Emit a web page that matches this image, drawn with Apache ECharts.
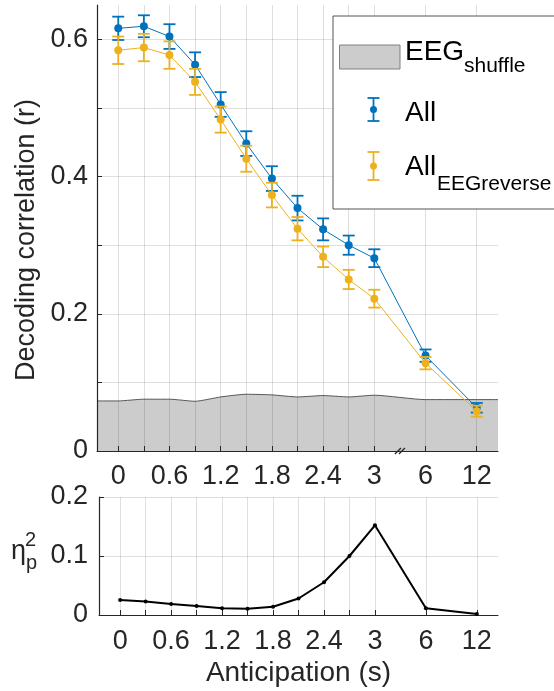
<!DOCTYPE html>
<html lang="en">
<head>
    <meta charset="UTF-8">
    <title>Decoding correlation vs anticipation</title>
    <script src="https://cdn.jsdelivr.net/npm/echarts@6/dist/echarts.min.js"></script>
    <style>
        html, body { margin: 0; padding: 0; background: #fff; }
        #chart { width: 554px; height: 691px; }
    </style>
</head>
<body>
<div id="chart"></div>
<script>
    // anticipation lags (s); the axis is broken after 3 s
    var anticipation = ['0', '0.3', '0.6', '0.9', '1.2', '1.5', '1.8', '2.1', '2.4', '2.7', '3', '6', '12'];
    var tickLabels = ['0', '0.6', '1.2', '1.8', '2.4', '3', '6', '12'];

    var allMean = [0.616, 0.619, 0.604, 0.563, 0.505, 0.448, 0.397, 0.354, 0.323, 0.300, 0.281, 0.139, 0.063];
    var allErr = [0.017, 0.016, 0.018, 0.018, 0.018, 0.018, 0.018, 0.018, 0.016, 0.014, 0.013, 0.009, 0.007];
    var revMean = [0.584, 0.588, 0.577, 0.538, 0.483, 0.426, 0.373, 0.324, 0.283, 0.250, 0.222, 0.128, 0.058];
    var revErr = [0.020, 0.020, 0.020, 0.019, 0.019, 0.019, 0.018, 0.017, 0.015, 0.014, 0.013, 0.009, 0.008];
    var shuffle = [0.073, 0.0755, 0.0755, 0.0725, 0.0788, 0.0827, 0.0818, 0.0788, 0.0808, 0.0788, 0.0813, 0.0749, 0.0749];
    var etaSq = [0.0255, 0.0227, 0.0187, 0.0153, 0.0113, 0.0107, 0.014, 0.028, 0.0555, 0.100, 0.152, 0.0113, 0.0017];

    var yTicksTop = [0, 0.1, 0.2, 0.3, 0.4, 0.5, 0.6];
    var yLabelsTop = [0, 0.2, 0.4, 0.6];
    var yTicksBottom = [0, 0.1, 0.2];

    var BLUE = '#0072BD', ORANGE = '#EDB120', INK = '#262626';
    var FONT = '"Liberation Sans", Arial, Helvetica, sans-serif';

    // slot on the x axis: 0.3 s steps up to 3 s, then two slots per break step
    function slot(i) { return i <= 10 ? i : 10 + 2 * (i - 10); }
    var xMin = -0.83, xMax = 14.83;
    var slots = anticipation.map(function (a, i) { return slot(i); });
    var labelSlots = tickLabels.map(function (t) { return slot(anticipation.indexOf(t)); });
    function slotLabel(v) {
        var i = slots.indexOf(Math.round(v));
        return i < 0 ? '' : anticipation[i];
    }

    function pairs(vals) { return vals.map(function (v, i) { return [slots[i], v]; }); }
    function bars(mean, err) { return mean.map(function (m, i) { return [slots[i], m - err[i], m + err[i]]; }); }

    var shuffleData = [[xMin, shuffle[0]]].concat(pairs(shuffle), [[xMax, shuffle[shuffle.length - 1]]]);

    function errorBar(color) {
        return function (params, api) {
            var lo = api.coord([api.value(0), api.value(1)]);
            var hi = api.coord([api.value(0), api.value(2)]);
            var w = 6, st = { stroke: color, lineWidth: 1.8, fill: null };
            return {
                type: 'group',
                children: [
                    { type: 'line', shape: { x1: hi[0], y1: hi[1], x2: lo[0], y2: lo[1] }, style: st },
                    { type: 'line', shape: { x1: hi[0] - w, y1: hi[1], x2: hi[0] + w, y2: hi[1] }, style: st },
                    { type: 'line', shape: { x1: lo[0] - w, y1: lo[1], x2: lo[0] + w, y2: lo[1] }, style: st }
                ]
            };
        };
    }

    function xAxisCfg(grid, margin, name) {
        return {
            type: 'value', gridIndex: grid, min: xMin, max: xMax,
            name: name || '', nameLocation: 'middle', nameGap: 44,
            nameTextStyle: { fontSize: 28, color: INK, fontFamily: FONT },
            axisLine: { show: true, onZero: false, lineStyle: { color: INK, width: 1 } },
            axisTick: { show: true, inside: true, length: 5, customValues: slots, lineStyle: { color: INK } },
            axisLabel: {
                customValues: labelSlots, margin: margin, fontSize: 27, color: INK, fontFamily: FONT,
                formatter: slotLabel
            },
            splitLine: { show: true, lineStyle: { color: 'rgba(38,38,38,0.15)', width: 1 } }
        };
    }

    function yAxisCfg(grid, max, ticks, labels, margin) {
        return {
            type: 'value', gridIndex: grid, min: 0, max: max,
            axisLine: { show: true, onZero: false, lineStyle: { color: INK, width: 1.2 } },
            axisTick: { show: true, inside: true, length: 5, customValues: ticks, lineStyle: { color: INK } },
            axisLabel: {
                customValues: labels, margin: margin, fontSize: 27, color: INK, fontFamily: FONT,
                formatter: function (v) { return v === 0 ? '0' : v.toFixed(1); }
            },
            splitLine: { show: true, lineStyle: { color: 'rgba(38,38,38,0.15)', width: 1 } }
        };
    }

    var topY = yAxisCfg(0, 0.65, yTicksTop, yLabelsTop, 9);
    topY.name = 'Decoding correlation (r)';
    topY.nameLocation = 'middle';
    topY.nameGap = 53;
    // right padding pushes the rotated title a little lower, as in the figure
    topY.nameTextStyle = { fontSize: 27, color: INK, fontFamily: FONT, padding: [0, 24, 0, 0] };

    var chart = echarts.init(document.getElementById('chart'));
    chart.setOption({
        animation: false,
        textStyle: { fontFamily: FONT },
        grid: [
            { left: 97, top: 5, width: 401, height: 446 },
            { left: 99, top: 497, width: 399, height: 118 }
        ],
        xAxis: [xAxisCfg(0, 12), xAxisCfg(1, 13, 'Anticipation (s)')],
        yAxis: [topY, yAxisCfg(1, 0.2, yTicksBottom, yTicksBottom, 11)],
        series: [
            {
                name: 'EEGshuffle', type: 'line', xAxisIndex: 0, yAxisIndex: 0, z: -1,
                data: shuffleData, symbol: 'none', smooth: 0.2,
                lineStyle: { color: '#333', width: 0.8 },
                areaStyle: { color: '#cccccc', opacity: 1 }
            },
            {
                name: 'All', type: 'line', xAxisIndex: 0, yAxisIndex: 0, z: 3,
                data: pairs(allMean), symbol: 'circle', symbolSize: 8,
                itemStyle: { color: BLUE }, lineStyle: { color: BLUE, width: 1 }
            },
            {
                type: 'custom', xAxisIndex: 0, yAxisIndex: 0, z: 3,
                data: bars(allMean, allErr), encode: { x: 0, y: [1, 2] },
                renderItem: errorBar(BLUE)
            },
            {
                name: 'AllEEGreverse', type: 'line', xAxisIndex: 0, yAxisIndex: 0, z: 4,
                data: pairs(revMean), symbol: 'circle', symbolSize: 8,
                itemStyle: { color: ORANGE }, lineStyle: { color: ORANGE, width: 1 }
            },
            {
                type: 'custom', xAxisIndex: 0, yAxisIndex: 0, z: 4,
                data: bars(revMean, revErr), encode: { x: 0, y: [1, 2] },
                renderItem: errorBar(ORANGE)
            },
            {
                // axis break mark between 3 and 6
                type: 'custom', xAxisIndex: 0, yAxisIndex: 0, z: 5,
                data: [[11, 0]], encode: { x: 0, y: 1 },
                renderItem: function (params, api) {
                    var p = api.coord([api.value(0), api.value(1)]);
                    var st = { stroke: INK, lineWidth: 1.2 };
                    return {
                        type: 'group', children: [
                            { type: 'line', shape: { x1: p[0] - 5, y1: p[1] + 3, x2: p[0] + 1, y2: p[1] - 3 }, style: st },
                            { type: 'line', shape: { x1: p[0] - 1, y1: p[1] + 3, x2: p[0] + 5, y2: p[1] - 3 }, style: st }
                        ]
                    };
                }
            },
            {
                name: 'etaSq', type: 'line', xAxisIndex: 1, yAxisIndex: 1, z: 3,
                data: pairs(etaSq), symbol: 'circle', symbolSize: 4,
                itemStyle: { color: '#000' }, lineStyle: { color: '#000', width: 2 }
            }
        ],
        graphic: [
            // legend
            { type: 'rect', z: 100, shape: { x: 333, y: 16, width: 260, height: 193 },
              style: { fill: '#fff', stroke: '#555', lineWidth: 1 } },
            { type: 'rect', z: 101, shape: { x: 339.5, y: 45, width: 60.5, height: 24 },
              style: { fill: '#cccccc', stroke: '#808080', lineWidth: 1 } },
            { type: 'text', z: 101, style: { text: 'EEG', x: 405, y: 52, fontSize: 28, fontFamily: FONT, fill: '#000', verticalAlign: 'middle' } },
            { type: 'text', z: 101, style: { text: 'shuffle', x: 464, y: 66, fontSize: 21, fontFamily: FONT, fill: '#000', verticalAlign: 'middle' } },
            { type: 'line', z: 101, shape: { x1: 373.5, y1: 98, x2: 373.5, y2: 121 }, style: { stroke: BLUE, lineWidth: 1.8 } },
            { type: 'line', z: 101, shape: { x1: 367.5, y1: 98, x2: 379.5, y2: 98 }, style: { stroke: BLUE, lineWidth: 1.8 } },
            { type: 'line', z: 101, shape: { x1: 367.5, y1: 121, x2: 379.5, y2: 121 }, style: { stroke: BLUE, lineWidth: 1.8 } },
            { type: 'circle', z: 101, shape: { cx: 373.5, cy: 109.5, r: 3.5 }, style: { fill: BLUE } },
            { type: 'text', z: 101, style: { text: 'All', x: 405, y: 113, fontSize: 28, fontFamily: FONT, fill: '#000', verticalAlign: 'middle' } },
            { type: 'line', z: 101, shape: { x1: 373.5, y1: 152, x2: 373.5, y2: 180 }, style: { stroke: ORANGE, lineWidth: 1.8 } },
            { type: 'line', z: 101, shape: { x1: 367.5, y1: 152, x2: 379.5, y2: 152 }, style: { stroke: ORANGE, lineWidth: 1.8 } },
            { type: 'line', z: 101, shape: { x1: 367.5, y1: 180, x2: 379.5, y2: 180 }, style: { stroke: ORANGE, lineWidth: 1.8 } },
            { type: 'circle', z: 101, shape: { cx: 373.5, cy: 166, r: 3.5 }, style: { fill: ORANGE } },
            { type: 'text', z: 101, style: { text: 'All', x: 405, y: 167, fontSize: 28, fontFamily: FONT, fill: '#000', verticalAlign: 'middle' } },
            { type: 'text', z: 101, style: { text: 'EEGreverse', x: 437, y: 184, fontSize: 21, fontFamily: FONT, fill: '#000', verticalAlign: 'middle' } },
            // eta_p^2 label of the lower panel
            { type: 'text', style: { text: 'η', x: 11, y: 552, fontSize: 27, fontFamily: FONT, fill: INK, verticalAlign: 'middle' } },
            { type: 'text', style: { text: '2', x: 25, y: 540, fontSize: 20, fontFamily: FONT, fill: INK, verticalAlign: 'middle' } },
            { type: 'text', style: { text: 'p', x: 26, y: 563, fontSize: 20, fontFamily: FONT, fill: INK, verticalAlign: 'middle' } }
        ]
    });
</script>
</body>
</html>
